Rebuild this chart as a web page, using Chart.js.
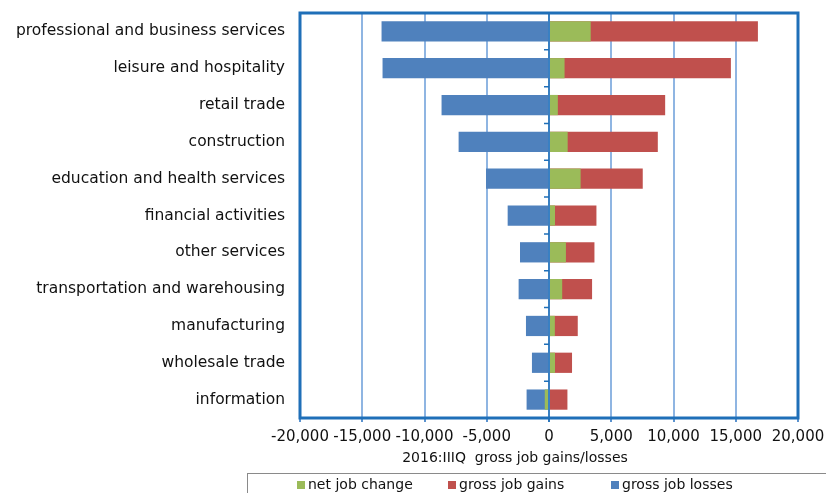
<!DOCTYPE html>
<html>
<head>
<meta charset="utf-8">
<script src="https://cdn.jsdelivr.net/npm/chart.js@4.4.1/dist/chart.umd.min.js"></script>
<style>
  html, body { margin: 0; padding: 0; background: #fff; }
</style>
</head>
<body>
<canvas id="jobChart" width="826" height="493"></canvas>
<script>
const industries = [
  'professional and business services',
  'leisure and hospitality',
  'retail trade',
  'construction',
  'education and health services',
  'financial activities',
  'other services',
  'transportation and warehousing',
  'manufacturing',
  'wholesale trade',
  'information'
];
const netChange   = [3350, 1250, 710, 1500, 2540, 480, 1360, 1060, 470, 480, -340];
const grossGains  = [16780, 14610, 9330, 8740, 7530, 3810, 3650, 3460, 2310, 1850, 1480];
const grossLosses = [-13450, -13370, -8630, -7260, -5060, -3320, -2330, -2440, -1850, -1370, -1800];
const xMin = -20000, xMax = 20000, xStep = 5000;

const seriesNames = ['net job change', 'gross job gains', 'gross job losses'];
const seriesColors = ['#9BBB59', '#C0504D', '#4F81BD'];
const axisTitle = '2016:IIIQ  gross job gains/losses';

const axisBlue = '#1F6FB8';
const gridBlue = '#8FB5E2';
const textColor = '#111';
const fontFamily = '"DejaVu Sans", sans-serif';

// zero axis line with its small tick marks, and the heavy frame round the plot
const plotFrame = {
  id: 'plotFrame',
  afterDatasetsDraw(chart) {
    const { ctx, chartArea: a, scales } = chart;
    const x0 = scales.x.getPixelForValue(0);
    ctx.save();
    ctx.strokeStyle = axisBlue;
    ctx.lineWidth = 1.5;
    ctx.beginPath();
    ctx.moveTo(x0, a.top);
    ctx.lineTo(x0, a.bottom + 4);
    for (let i = 1; i < industries.length; i++) {
      const y = (scales.y.getPixelForValue(i - 1) + scales.y.getPixelForValue(i)) / 2;
      ctx.moveTo(x0 - 5, y);
      ctx.lineTo(x0, y);
    }
    ctx.stroke();
    ctx.lineWidth = 3;
    ctx.strokeRect(a.left, a.top, a.right - a.left, a.bottom - a.top);
    ctx.restore();
  }
};

// axis title (sits a bit left of the plot centre, as in the original) and Excel style legend box
const legendBox = {
  id: 'legendBox',
  afterDraw(chart) {
    const { ctx } = chart;
    const xs = [297, 448, 611];
    ctx.save();
    ctx.font = '14px ' + fontFamily;
    ctx.textBaseline = 'middle';
    ctx.fillStyle = textColor;
    ctx.textAlign = 'center';
    ctx.fillText(axisTitle, 515, 458);
    ctx.textAlign = 'left';
    ctx.strokeStyle = '#8a8a8a';
    ctx.lineWidth = 1;
    ctx.strokeRect(247.5, 473.5, 700, 40);
    chart.data.datasets.forEach((ds, i) => {
      ctx.fillStyle = ds.backgroundColor;
      ctx.fillRect(xs[i], 481, 8, 8);
      ctx.fillStyle = textColor;
      ctx.fillText(ds.label, xs[i] + 11, 485.5);
    });
    ctx.restore();
  }
};

new Chart(document.getElementById('jobChart'), {
  type: 'bar',
  data: {
    labels: industries,
    datasets: [
      { label: seriesNames[0], data: netChange, backgroundColor: seriesColors[0] },
      { label: seriesNames[1], data: grossGains, backgroundColor: seriesColors[1] },
      { label: seriesNames[2], data: grossLosses, backgroundColor: seriesColors[2] }
    ]
  },
  options: {
    indexAxis: 'y',
    responsive: false,
    animation: false,
    devicePixelRatio: 1,
    layout: { padding: { top: 13, right: 28, bottom: 27, left: 0 } },
    datasets: { bar: { barPercentage: 0.55, categoryPercentage: 1 } },
    plugins: {
      legend: { display: false },
      tooltip: { enabled: false }
    },
    scales: {
      x: {
        min: xMin,
        max: xMax,
        border: { display: false },
        grid: { color: gridBlue, lineWidth: 2, tickLength: 4, tickColor: '#5B93CF' },
        ticks: {
          stepSize: xStep,
          maxRotation: 0,
          minRotation: 0,
          autoSkip: false,
          padding: 6,
          color: textColor,
          font: { family: fontFamily, size: 15 },
          callback: v => v.toLocaleString('en-US')
        },
        afterFit: s => {
          s.height = 48;
          s.paddingLeft = 0;
          s.paddingRight = 0;
        }
      },
      y: {
        stacked: true,
        border: { display: false },
        grid: { display: false, drawTicks: false },
        ticks: {
          padding: 15,
          color: textColor,
          font: { family: fontFamily, size: 15.5 }
        },
        afterFit: s => {
          s.width = 300;
          s.paddingTop = 0;
          s.paddingBottom = 0;
        }
      }
    }
  },
  plugins: [plotFrame, legendBox]
});
</script>
</body>
</html>
